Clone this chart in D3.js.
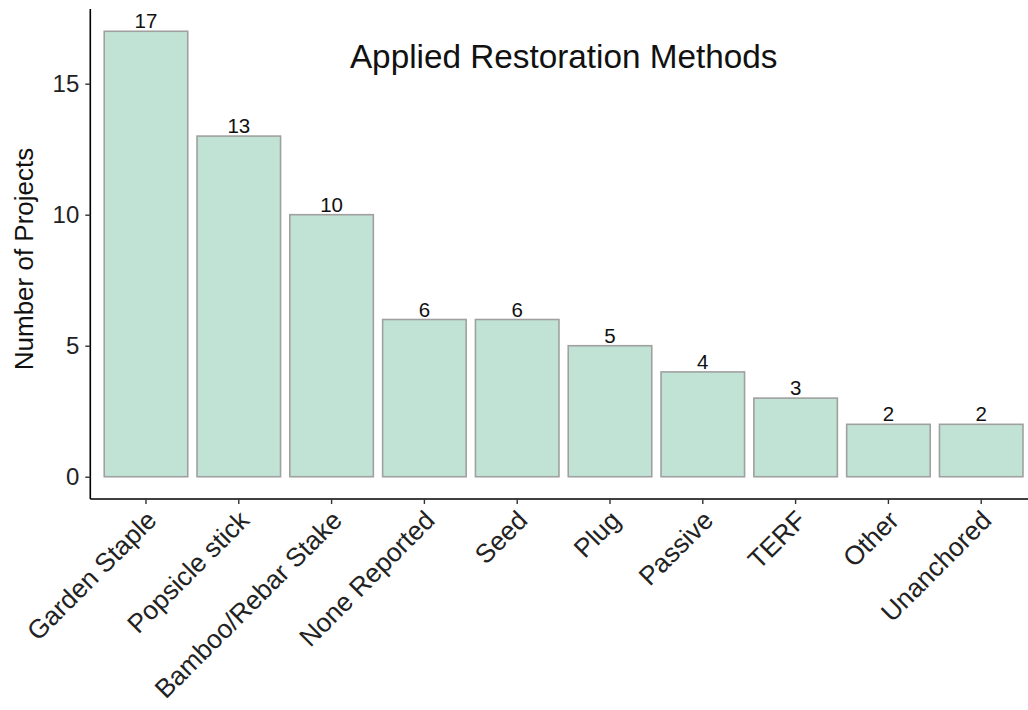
<!DOCTYPE html>
<html><head><meta charset="utf-8">
<script src="https://cdn.jsdelivr.net/npm/d3@7"></script>
<style>body{margin:0;background:#fff;} text{font-family:"Liberation Sans",Arial,sans-serif;}</style>
</head><body>
<svg id="c" width="1028" height="710"></svg>
<script>
const categories = ["Garden Staple","Popsicle stick","Bamboo/Rebar Stake","None Reported","Seed","Plug","Passive","TERF","Other","Unanchored"];
const values = [17,13,10,6,6,5,4,3,2,2];
const yTicks = [0,5,10,15];
const chartTitle = "Applied Restoration Methods";
const yTitle = "Number of Projects";

(function(){
const svg = d3.select("#c");
const pL = 90.3, pR = 1036.9, pT = 9, pB = 499;
const step = (pR-pL)/10.2;
const x = d3.scaleBand().domain(categories)
  .range([pL + 0.1*step, pR - 0.1*step]).paddingInner(0.1).paddingOuter(0.05);
const y = d3.scaleLinear().domain([-0.85, 17.85]).range([pB, pT]);

svg.append("g").selectAll("rect").data(values).join("rect")
  .attr("x",(d,i)=>x(categories[i]))
  .attr("width",x.bandwidth())
  .attr("y",d=>y(d)).attr("height",d=>y(0)-y(d))
  .attr("fill","#c1e3d6").attr("stroke","#a0a0a0").attr("stroke-width",1.6);

svg.append("g").selectAll("text").data(values).join("text")
  .attr("x",(d,i)=>x(categories[i])+x.bandwidth()/2)
  .attr("y",d=>y(d)-3)
  .attr("text-anchor","middle").attr("font-size",20.5).attr("fill","#111")
  .text(d=>d);

const yAxis = svg.append("g").attr("transform",`translate(${pL},0)`)
  .call(d3.axisLeft(y).tickValues(yTicks).tickSize(5).tickPadding(6));
yAxis.select(".domain").attr("d",`M0,${pT}V${pB}`).attr("stroke","#000").attr("stroke-width",1.6);
yAxis.selectAll(".tick line").attr("stroke","#333").attr("stroke-width",1.4);
yAxis.selectAll(".tick text").attr("font-size",24).attr("fill","#222").attr("font-family","Liberation Sans, Arial, sans-serif");

const xAxis = svg.append("g").attr("transform",`translate(0,${pB})`)
  .call(d3.axisBottom(x).tickSize(5).tickPadding(6));
xAxis.select(".domain").attr("d",`M${pL},0H${pR}`).attr("stroke","#000").attr("stroke-width",1.6);
xAxis.selectAll(".tick line").attr("stroke","#333").attr("stroke-width",1.4);
xAxis.selectAll(".tick text")
  .attr("font-size",26.3).attr("fill","#222").attr("font-family","Liberation Sans, Arial, sans-serif")
  .attr("text-anchor","end").attr("dy",null).attr("y",null)
  .attr("transform","translate(12,23) rotate(-45)");

svg.append("text").attr("x",563.7).attr("y",68).attr("text-anchor","middle")
  .attr("font-size",33.3).attr("fill","#111").text(chartTitle);

svg.append("text").attr("transform",`translate(33,259) rotate(-90)`)
  .attr("text-anchor","middle").attr("font-size",26).attr("fill","#111").text(yTitle);
})();
</script>
</body></html>
